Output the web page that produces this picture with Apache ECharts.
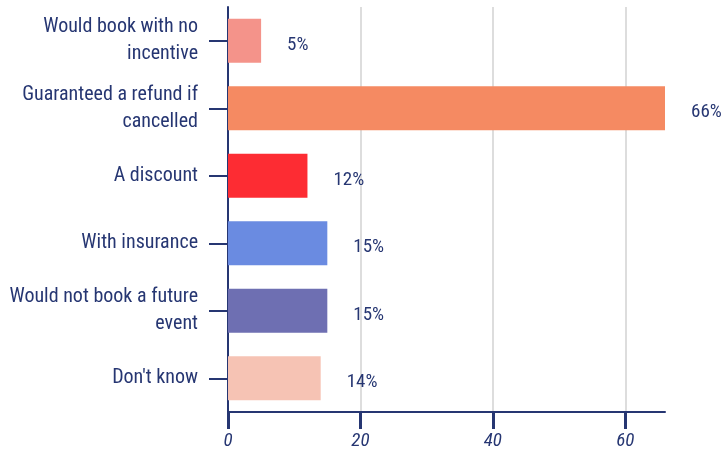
<!DOCTYPE html>
<html lang="en">
<head>
    <meta charset="UTF-8">
    <title>Booking incentives</title>
    <script src="https://cdn.jsdelivr.net/npm/echarts@6/dist/echarts.min.js"></script>
    <style>
        body { margin: 0; background: #fff; }
    </style>
</head>
<body>
    <div id="chart" style="width: 727px; height: 451px;"></div>

    <script>
        var categorias = [
            'Would book with no\nincentive',
            'Guaranteed a refund if\ncancelled',
            'A discount',
            'With insurance',
            'Would not book a future\nevent',
            "Don't know"
        ];
        var valores = [5, 66, 12, 15, 15, 14];
        var cores = ['#f4938a', '#f58a62', '#fd2c33', '#6a8be1', '#6e6fb2', '#f6c3b4'];

        var azul = '#263672';
        var fonte = '"Roboto Condensed", "Liberation Sans Narrow", "DejaVu Sans Condensed", Roboto, sans-serif';

        var chart = echarts.init(document.getElementById('chart'));

        chart.setOption({
            animation: false,
            grid: { left: 228, right: 62, top: 7, bottom: 37 },
            xAxis: {
                type: 'value',
                position: 'bottom',
                min: 0,
                max: 66,
                interval: 20,
                axisLine: { show: true, onZero: false, lineStyle: { color: azul, width: 2 } },
                axisTick: { show: true, inside: false, length: 17, lineStyle: { color: azul, width: 3 } },
                axisLabel: {
                    color: azul,
                    fontSize: 19,
                    fontStyle: 'italic',
                    fontFamily: fonte,
                    margin: 20,
                    showMaxLabel: false
                },
                splitLine: { show: true, showMinLine: false, showMaxLine: false, lineStyle: { color: '#dddddd', width: 2 } }
            },
            yAxis: {
                type: 'category',
                inverse: true,
                data: categorias,
                axisLine: { show: true, lineStyle: { color: azul, width: 2 } },
                axisTick: { show: true, alignWithLabel: true, length: 19, lineStyle: { color: azul, width: 2 } },
                axisLabel: {
                    color: azul,
                    fontSize: 20,
                    lineHeight: 27,
                    fontFamily: fonte,
                    margin: 30,
                    align: 'right',
                    padding: [5, 0, 0, 0]
                }
            },
            series: [{
                type: 'bar',
                barWidth: 44,
                data: valores.map(function (v, i) {
                    return { value: v, itemStyle: { color: cores[i] } };
                }),
                label: {
                    show: true,
                    position: 'right',
                    distance: 26,
                    offset: [0, 4],
                    color: azul,
                    fontSize: 19,
                    fontFamily: fonte,
                    formatter: '{c}%'
                }
            }]
        });
    </script>
</body>
</html>
